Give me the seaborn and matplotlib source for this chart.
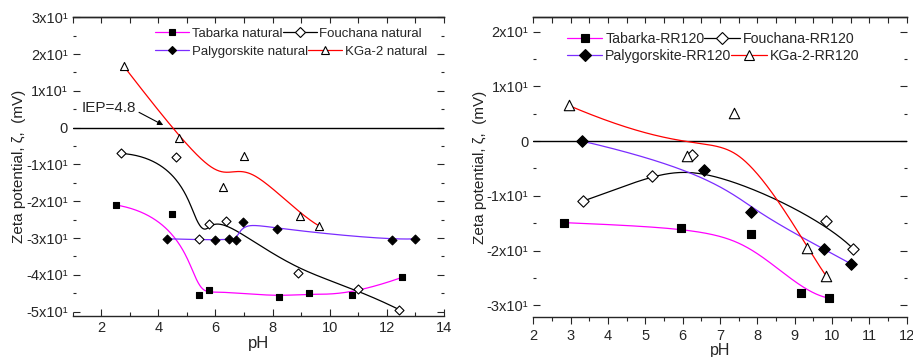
import numpy as np
import matplotlib
matplotlib.use("Agg")
import matplotlib.pyplot as plt
import seaborn as sns
from matplotlib.lines import Line2D
from matplotlib.ticker import MultipleLocator

# natural clays (left panel)
tab_nat_ph = [2.5, 4.48, 5.43, 5.76, 8.21, 9.27, 10.77, 12.53]
tab_nat_zp = [-21.0, -23.5, -45.5, -44.2, -46.0, -45.0, -45.5, -40.7]
fou_nat_ph = [2.70, 4.60, 5.43, 5.78, 6.38, 8.89, 10.99, 12.44]
fou_nat_zp = [-7.0, -8.0, -30.2, -26.3, -25.4, -39.6, -43.9, -49.5]
pal_nat_ph = [4.29, 5.98, 6.48, 6.73, 6.97, 8.17, 12.17, 13.0]
pal_nat_zp = [-30.2, -30.6, -30.2, -30.6, -25.6, -27.6, -30.6, -30.2]
kga_nat_ph = [2.78, 4.72, 6.27, 7.01, 8.97, 9.63]
kga_nat_zp = [16.8, -2.7, -16.2, -7.6, -23.9, -26.7]

# RR120 loaded clays (right panel)
tab_rr_ph = [2.83, 5.96, 7.83, 9.17, 9.92]
tab_rr_zp = [-14.9, -15.8, -16.9, -27.7, -28.7]
fou_rr_ph = [3.32, 5.19, 6.26, 9.83, 10.57]
fou_rr_zp = [-11.0, -6.4, -2.6, -14.6, -19.7]
pal_rr_ph = [3.30, 6.58, 7.82, 9.79, 10.50]
pal_rr_zp = [0.0, -5.2, -13.0, -19.7, -22.4]
kga_rr_ph = [2.95, 6.11, 7.38, 9.32, 9.84]
kga_rr_zp = [6.5, -2.7, 5.2, -19.6, -24.6]

left_yticks = [-50, -40, -30, -20, -10, 0, 10, 20, 30]
left_ylabels = ["-5x10¹", "-4x10¹", "-3x10¹", "-2x10¹", "-1x10¹", "0", "1x10¹", "2x10¹", "3x10¹"]
right_yticks = [-30, -20, -10, 0, 10, 20]
right_ylabels = ["-3x10¹", "-2x10¹", "-1x10¹", "0", "1x10¹", "2x10¹"]

names_nat = ["Tabarka natural", "Fouchana natural", "Palygorskite natural", "KGa-2 natural"]
names_rr = ["Tabarka-RR120", "Fouchana-RR120", "Palygorskite-RR120", "KGa-2-RR120"]

sns.set_style("ticks")
plt.rcParams["font.family"] = ["Liberation Sans", "DejaVu Sans"]

MAGENTA = "#ff00ff"
PURPLE = "#7b2cff"
RED = "#ff0000"


def bspline(xs, ys, n=300, k=3):
    # clamped uniform B-spline using the data points as control points
    P = np.column_stack([xs, ys])
    m = len(P)
    k = min(k, m - 1)
    knots = np.concatenate([np.zeros(k), np.linspace(0, 1, m - k + 1), np.ones(k)])
    t = np.linspace(0, 1, n)
    t[-1] -= 1e-9
    N = np.zeros((n, len(knots) - 1))
    for i in range(len(knots) - 1):
        N[:, i] = (t >= knots[i]) & (t < knots[i + 1])
    for d in range(1, k + 1):
        Nn = np.zeros((n, len(knots) - 1 - d))
        for i in range(len(knots) - 1 - d):
            a = knots[i + d] - knots[i]
            b = knots[i + d + 1] - knots[i + 1]
            left = (t - knots[i]) / a * N[:, i] if a > 0 else 0
            right = (knots[i + d + 1] - t) / b * N[:, i + 1] if b > 0 else 0
            Nn[:, i] = left + right
        N = Nn
    C = N @ P
    return C[:, 0], C[:, 1]


def draw_series(ax, ph, zp, color, marker, filled, ms):
    cx, cy = bspline(ph, zp)
    sns.lineplot(x=cx, y=cy, ax=ax, color=color, lw=0.9, sort=False, estimator=None, zorder=3)
    face = "black" if filled else "white"
    sns.scatterplot(x=ph, y=zp, ax=ax, marker=marker, s=ms ** 2, color=face,
                    edgecolor="black", linewidth=0.8, zorder=4)


def handle(color, marker, filled, ms):
    return Line2D([], [], color=color, lw=0.9, marker=marker, markersize=ms,
                  markerfacecolor="black" if filled else "white",
                  markeredgecolor="black", markeredgewidth=0.8)


def style_axes(ax, bottom_dir, xstep, xpad, xfs):
    ax.spines["left"].set_visible(False)
    ax.spines["right"].set_visible(False)
    ax.spines["top"].set_linewidth(1.0)
    ax.spines["bottom"].set_linewidth(1.0)
    ax.tick_params(axis="y", which="both", direction="in", left=True, right=True,
                   labelsize=10.5, width=0.8)
    ax.tick_params(axis="y", which="major", length=5)
    ax.tick_params(axis="y", which="minor", length=2)
    ax.tick_params(axis="x", which="both", direction=bottom_dir, top=False, bottom=True,
                   labelsize=10.5, width=0.8)
    ax.tick_params(axis="x", which="major", length=5)
    ax.tick_params(axis="x", which="minor", length=3)
    # top axis keeps inward ticks, no labels
    top = ax.secondary_xaxis("top")
    top.xaxis.set_major_locator(MultipleLocator(xstep))
    top.xaxis.set_minor_locator(MultipleLocator(xstep / 2))
    top.tick_params(which="both", direction="in", labeltop=False, width=0.8)
    top.tick_params(which="major", length=4)
    top.tick_params(which="minor", length=4)
    top.spines["top"].set_linewidth(1.0)
    ax.set_xlabel("pH", fontsize=xfs, labelpad=xpad)
    ax.set_ylabel("Zeta potential, ζ,  (mV)", fontsize=11, labelpad=0, color="#222222")
    ax.axhline(0, color="black", lw=1.0, zorder=2)


def add_legends(ax, handles, names, rows_y, x0, fs, hl):
    for r in range(2):
        leg = ax.legend(handles[2 * r:2 * r + 2], names[2 * r:2 * r + 2], ncol=2,
                        loc="center left", bbox_to_anchor=(x0, rows_y[r]), frameon=False,
                        fontsize=fs, handlelength=hl, handletextpad=0.2, columnspacing=0.0,
                        borderpad=0, borderaxespad=0)
        ax.add_artist(leg)
    ax.legend_ = None


fig = plt.figure(figsize=(9.13, 3.57), dpi=100)
axL = fig.add_axes([0.0796, 0.1148, 0.4067, 0.8367])
axR = fig.add_axes([0.5841, 0.1126, 0.4090, 0.8389])

# left panel
draw_series(axL, tab_nat_ph, tab_nat_zp, MAGENTA, "s", True, 4.8)
draw_series(axL, fou_nat_ph, fou_nat_zp, "black", "D", False, 4.6)
draw_series(axL, pal_nat_ph, pal_nat_zp, PURPLE, "D", True, 4.5)
draw_series(axL, kga_nat_ph, kga_nat_zp, RED, "^", False, 5.8)
axL.set_xlim(1, 14)
axL.set_ylim(-51.2, 30)
axL.xaxis.set_major_locator(MultipleLocator(2))
axL.xaxis.set_minor_locator(MultipleLocator(1))
axL.set_yticks(left_yticks)
axL.set_yticklabels(left_ylabels)
axL.yaxis.set_minor_locator(MultipleLocator(5))
style_axes(axL, "in", 2, 1, 12)
axL.annotate("IEP=4.8", xy=(4.17, 0.7), xytext=(1.3, 5.4), fontsize=11, va="center",
             arrowprops=dict(arrowstyle="-|>", color="black", lw=0.8, mutation_scale=8,
                             shrinkA=0, shrinkB=0, relpos=(1.0, 0.3)))
hL = [handle(MAGENTA, "s", True, 4.8), handle("black", "D", False, 4.6),
      handle(PURPLE, "D", True, 4.5), handle(RED, "^", False, 5.8)]
add_legends(axL, hL, names_nat, [0.946, 0.885], 0.222, 9.5, 2.6)

# right panel
draw_series(axR, tab_rr_ph, tab_rr_zp, MAGENTA, "s", True, 6.3)
draw_series(axR, fou_rr_ph, fou_rr_zp, "black", "D", False, 5.8)
draw_series(axR, pal_rr_ph, pal_rr_zp, PURPLE, "D", True, 5.9)
draw_series(axR, kga_rr_ph, kga_rr_zp, RED, "^", False, 7.5)
axR.set_xlim(2, 12)
axR.set_ylim(-32.1, 22.6)
axR.xaxis.set_major_locator(MultipleLocator(1))
axR.xaxis.set_minor_locator(MultipleLocator(0.5))
axR.set_yticks(right_yticks)
axR.set_yticklabels(right_ylabels)
axR.yaxis.set_minor_locator(MultipleLocator(5))
style_axes(axR, "out", 1, 0, 11.5)
hR = [handle(MAGENTA, "s", True, 6.3), handle("black", "D", False, 5.8),
      handle(PURPLE, "D", True, 5.9), handle(RED, "^", False, 7.5)]
add_legends(axR, hR, names_rr, [0.9265, 0.871], 0.09, 10.2, 2.5)

fig.savefig("out.png", dpi=100)
